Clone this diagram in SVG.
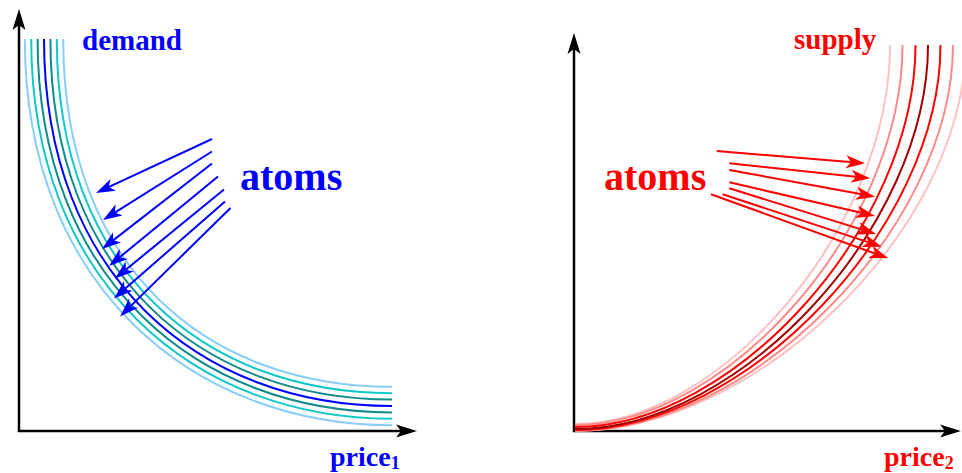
<svg xmlns="http://www.w3.org/2000/svg" width="962" height="473" viewBox="0 0 962 473">
<style>
.ax{stroke:#000;stroke-width:2.5;fill:none}
.c{fill:none;stroke-width:2}
.lb{stroke:#87CEFA}.cy{stroke:#10C8C8}.tl{stroke:#108A8A}.bl{stroke:#0000FF}
.pk{stroke:#FFC0C0}.lr{stroke:#FF8A8A}.rd{stroke:#FF0000}.dr{stroke:#A00000}
.ab{stroke:#0000FF;stroke-width:2;fill:none;marker-end:url(#hb)}
.ar{stroke:#FF0000;stroke-width:2;fill:none;marker-end:url(#hr)}
.t{font-family:"Liberation Serif","Times New Roman",serif;font-weight:bold}
.tb{fill:#0000FF}.tr{fill:#FF0000}
</style>
<defs>
<marker id="ah" markerUnits="userSpaceOnUse" orient="auto" overflow="visible" refX="0" refY="0" markerWidth="1" markerHeight="1"><path d="M16,0 L-5,-6.5 L0,0 L-5,6.5 Z" fill="#000"/></marker>
<marker id="hb" markerUnits="userSpaceOnUse" orient="auto" overflow="visible" refX="0" refY="0" markerWidth="1" markerHeight="1"><path d="M12,0 L-7,-6.5 L-2,0 L-7,6.5 Z" fill="#0000FF"/></marker>
<marker id="hr" markerUnits="userSpaceOnUse" orient="auto" overflow="visible" refX="0" refY="0" markerWidth="1" markerHeight="1"><path d="M12,0 L-7,-6.5 L-2,0 L-7,6.5 Z" fill="#FF0000"/></marker>
</defs>
<rect width="962" height="473" fill="#fff"/>

<g id="demand-axes">
<line class="ax" x1="19" y1="432" x2="19" y2="25" marker-end="url(#ah)"/>
<line class="ax" x1="18" y1="431" x2="401" y2="431" marker-end="url(#ah)"/>
</g>
<g id="demand-curves">
<path class="c lb" d="M24.8,39 C24.8,286.7 193.7,425.2 392,425.2"/>
<path class="c cy" d="M31.2,39 C31.2,283.7 196,418.8 392,418.8"/>
<path class="c tl" d="M37.6,39 C37.6,280.6 198.3,412.4 392,412.4"/>
<path class="c bl" d="M44,39 C44,277.6 200.6,406 392,406"/>
<path class="c tl" d="M50.4,39 C50.4,274.6 202.9,399.6 392,399.6"/>
<path class="c cy" d="M56.8,39 C56.8,271.5 205.2,393.2 392,393.2"/>
<path class="c lb" d="M63.2,39 C63.2,268.5 207.5,386.8 392,386.8"/>
</g>
<g id="demand-labels">
<text class="t tb" x="82" y="50" font-size="29">demand</text>
<text class="t tb" x="240" y="190" font-size="40">atoms</text>
<text class="t tb" x="330" y="466" font-size="28">price<tspan font-size="18" dy="3">1</tspan></text>
</g>

<g id="supply-axes">
<line class="ax" x1="574" y1="432" x2="574" y2="49" marker-end="url(#ah)"/>
<line class="ax" x1="573" y1="431" x2="945" y2="431" marker-end="url(#ah)"/>
</g>
<g id="supply-curves">
<path class="c pk" d="M575,424 C722.5,424 890,226.4 890,45"/>
<path class="c pk" d="M575,431 C758,431 965.5,226.4 965.5,45"/>
<path class="c lr" d="M575,425 C728.4,425 902.5,226.4 902.5,45"/>
<path class="c lr" d="M575,431 C752.1,431 953,226.4 953,45"/>
<path class="c rd" d="M575,427 C734.5,427 915.5,226.4 915.5,45"/>
<path class="c rd" d="M575,430 C746.3,430 940.5,226.4 940.5,45"/>
<path class="c dr" d="M575,429 C740.4,429 928,226.4 928,45"/>
</g>
<g id="supply-labels">
<text class="t tr" x="794" y="49" font-size="29">supply</text>
<text class="t tr" x="604" y="190" font-size="40">atoms</text>
<text class="t tr" x="884" y="466" font-size="28">price<tspan font-size="18" dy="3">2</tspan></text>
</g>

<g id="connectors">
<line class="ab" x1="212" y1="139" x2="106.9" y2="187.9"/>
<line class="ab" x1="212" y1="151.5" x2="113.2" y2="213.6"/>
<line class="ab" x1="212" y1="163.5" x2="111.5" y2="241.6"/>
<line class="ab" x1="218" y1="176.5" x2="118.3" y2="258.4"/>
<line class="ab" x1="224" y1="189.5" x2="124.3" y2="270.9"/>
<line class="ab" x1="225" y1="201.5" x2="123" y2="290.6"/>
<line class="ab" x1="230.5" y1="208" x2="128.6" y2="308.1"/>
<line class="ar" x1="716.7" y1="151" x2="853" y2="162.3"/>
<line class="ar" x1="729.3" y1="163.3" x2="858.1" y2="177"/>
<line class="ar" x1="729.3" y1="170" x2="863.2" y2="194.5"/>
<line class="ar" x1="729.3" y1="182.3" x2="863.3" y2="213.3"/>
<line class="ar" x1="729.3" y1="188.3" x2="864.5" y2="230.4"/>
<line class="ar" x1="722.7" y1="194.3" x2="870.3" y2="242.9"/>
<line class="ar" x1="711" y1="194.3" x2="877" y2="254.2"/>
</g>
</svg>
